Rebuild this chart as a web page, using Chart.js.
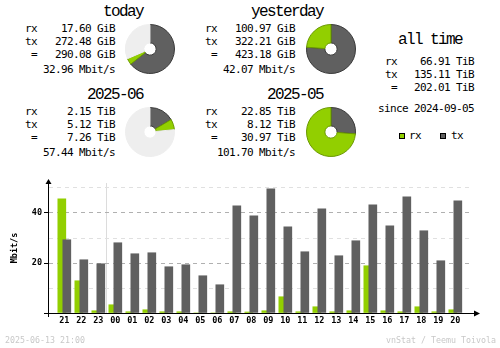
<!DOCTYPE html>
<html><head><meta charset="utf-8">
<script src="https://cdn.jsdelivr.net/npm/chart.js@4/dist/chart.umd.min.js"></script>
<style>
html,body{margin:0;padding:0;background:#fff;}
#wrap{position:relative;width:500px;height:348px;overflow:hidden;font-family:'DejaVu Sans Mono',monospace;color:#000;}
.t{position:absolute;white-space:pre;font-size:11px;line-height:11px;letter-spacing:-0.62px;}
.h{position:absolute;white-space:pre;font-family:'Liberation Mono',monospace;font-size:16px;line-height:16px;letter-spacing:-1.6px;}
.s{position:absolute;white-space:pre;font-size:8.3px;line-height:8.3px;color:#c8c8c8;}
.sq{position:absolute;width:6px;height:6px;box-sizing:border-box;border:1px solid #000;}
canvas{position:absolute;}
</style></head>
<body><div id="wrap">
<canvas id="bars" width="500" height="178" style="left:0;top:170px;width:500px;height:178px"></canvas>
</div>
<script>
// ---- summary data ----
const periods   = ['today', 'yesterday', '2025-06', '2025-05'];
const rxText    = ['17.60 GiB', '100.97 GiB', '2.15 TiB', '22.85 TiB'];
const txText    = ['272.48 GiB', '322.21 GiB', '5.12 TiB', '8.12 TiB'];
const totText   = ['290.08 GiB', '423.18 GiB', '7.26 TiB', '30.97 TiB'];
const rateText  = ['32.96 Mbit/s', '42.07 Mbit/s', '57.44 Mbit/s', '101.70 Mbit/s'];
const rxAmount  = [17.60, 100.97, 2.15, 22.85];
const txAmount  = [272.48, 322.21, 5.12, 8.12];
const allTimeRx = '66.91 TiB';
const allTimeTx = '135.11 TiB';
const allTimeTot = '202.01 TiB';
const sinceText = 'since 2024-09-05';
const stampText = '2025-06-13 21:00';
const creditText = 'vnStat / Teemu Toivola';

// ---- hourly data (Mbit/s) ----
const hours  = ['21','22','23','00','01','02','03','04','05','06','07','08','09','10','11','12','13','14','15','16','17','18','19','20'];
const rxMbit = [45.7, 12.9, 0.9, 3.3, 0.5, 1.3, 0.5, 0.5, 0, 0, 0.5, 0.4, 0.9, 6.5, 0.5, 2.5, 0.5, 0.9, 18.9, 0.9, 0.5, 2.5, 0.5, 1.3];
const txMbit = [29.3, 21.3, 19.7, 28.1, 23.7, 24.1, 18.5, 19.3, 14.9, 11.3, 42.9, 38.9, 49.7, 34.5, 24.5, 41.7, 22.9, 28.9, 43.3, 34.9, 46.5, 32.9, 20.9, 44.9];
const yGrid     = [0, 10, 20, 30, 40, 50];
const yLabelled = [20, 40];
const yMax = 52;

const RX = '#92cf00', TX = '#606060', REST = '#eeeeee';
const wrap = document.getElementById('wrap');

function txt(cls, s, x, baseline, align) {
  const off = {t: 9.3, h: 12.25, s: 7.0}[cls];
  const d = document.createElement('div');
  d.className = cls;
  d.textContent = s;
  d.style.top = (baseline - off) + 'px';
  if (align === 'right') { d.style.right = (500 - x) + 'px'; d.style.textAlign = 'right'; }
  else d.style.left = x + 'px';
  wrap.appendChild(d);
}

// summary blocks
const colDx = [0, 180, 0, 180];
const rowDy = [0, 0, 83, 83];
const pieCx = [150, 331, 150, 331];
const pieCy = [49.3, 49.3, 132.3, 132.3];
const pairMax = [0,1,2,3].map(i => {
  const a = i < 2 ? 0 : 2;
  return Math.max(rxAmount[a] + txAmount[a], rxAmount[a+1] + txAmount[a+1]);
});
periods.forEach((p, i) => {
  const dx = colDx[i], dy = rowDy[i];
  txt('h', p, 143 + dx, 16 + dy, 'right');
  txt('t', 'rx', 25 + dx, 32.7 + dy, 'left');
  txt('t', rxText[i], 115 + dx, 32.7 + dy, 'right');
  txt('t', 'tx', 25 + dx, 45.3 + dy, 'left');
  txt('t', txText[i], 115 + dx, 45.3 + dy, 'right');
  txt('t', ' =', 25 + dx, 58.7 + dy, 'left');
  txt('t', totText[i], 115 + dx, 58.7 + dy, 'right');
  txt('t', rateText[i], 115 + dx, 73.2 + dy, 'right');

  const c = document.createElement('canvas');
  c.width = 50; c.height = 50;
  c.style.left = (pieCx[i] - 25) + 'px';
  c.style.top = (pieCy[i] - 25) + 'px';
  c.style.width = '50px'; c.style.height = '50px';
  wrap.appendChild(c);
  const rest = Math.max(pairMax[i] - rxAmount[i] - txAmount[i], 0);
  new Chart(c, {
    type: 'doughnut',
    data: { labels: ['tx', 'rx', ''], datasets: [{
      data: [txAmount[i], rxAmount[i], rest],
      backgroundColor: [TX, RX, REST],
      borderColor: ['#3a3a3a', '#6a9800', REST],
      borderWidth: 1
    }]},
    options: { responsive: false, animation: false, events: [], cutout: '25%',
      plugins: { legend: { display: false }, tooltip: { enabled: false } } }
  });
});

// all time
txt('h', 'all time', 462, 44.3, 'right');
txt('t', 'rx', 385, 65.7, 'left');  txt('t', allTimeRx, 474, 65.7, 'right');
txt('t', 'tx', 385, 78.3, 'left');  txt('t', allTimeTx, 474, 78.3, 'right');
txt('t', ' =', 385, 91.7, 'left');  txt('t', allTimeTot, 474, 91.7, 'right');
txt('t', sinceText, 474, 112.3, 'right');
// legend
[[398.5, RX, 'rx', 409], [440, TX, 'tx', 451]].forEach(([x, col, lab, tx]) => {
  const q = document.createElement('div');
  q.className = 'sq'; q.style.left = x + 'px'; q.style.top = '133px'; q.style.background = col;
  wrap.appendChild(q);
  txt('t', lab, tx, 139.3, 'left');
});
// footer
txt('s', stampText, 5, 342.7, 'left');
txt('s', creditText, 496, 342.7, 'right');

// ---- hourly bar chart ----
const boundary = hours.indexOf('00') - 0.5;
const xMin = -0.96, span = 25, barShift = 0.147;
const arrows = {
  id: 'arrows',
  afterDraw(chart) {
    const {ctx, chartArea: a} = chart;
    const L = Math.round(a.left) + 0.5, B = Math.round(a.bottom) + 0.5, R = Math.round(a.right), T = Math.round(a.top);
    ctx.save();
    ctx.strokeStyle = '#000'; ctx.fillStyle = '#000'; ctx.lineWidth = 1;
    ctx.beginPath();
    ctx.moveTo(L, a.bottom); ctx.lineTo(L, a.bottom + 4);
    ctx.moveTo(R, B); ctx.lineTo(R + 3, B);
    ctx.moveTo(L, T + 1); ctx.lineTo(L, T - 1);
    ctx.stroke();
    ctx.beginPath();
    ctx.moveTo(R + 1, B - 3); ctx.lineTo(R + 7, B); ctx.lineTo(R + 1, B + 3); ctx.closePath(); ctx.fill();
    ctx.beginPath();
    ctx.moveTo(L - 3, T + 1); ctx.lineTo(L, T - 4); ctx.lineTo(L + 3, T + 1); ctx.closePath(); ctx.fill();
    ctx.restore();
  }
};
Chart.defaults.font.family = "'DejaVu Sans Mono', monospace";
new Chart(document.getElementById('bars'), {
  type: 'bar',
  data: { datasets: [
    { label: 'rx', data: rxMbit.map((v, i) => ({x: i, y: v})), xAxisID: 'xr', backgroundColor: RX, order: 2, barThickness: 8, grouped: false },
    { label: 'tx', data: txMbit.map((v, i) => ({x: i, y: v})), xAxisID: 'xt', backgroundColor: TX, order: 1, barThickness: 8, grouped: false }
  ]},
  options: {
    responsive: false, animation: false, events: [],
    layout: { padding: { top: 13, right: 27, bottom: 0, left: 0 } },
    plugins: { legend: { display: false }, tooltip: { enabled: false } },
    scales: {
      xl: { type: 'linear', position: 'bottom', min: xMin, max: xMin + span, offset: false,
        afterBuildTicks: s => { s.ticks = hours.map((h, i) => ({value: i})).concat([{value: boundary}]); },
        ticks: { autoSkip: false, maxRotation: 0, padding: 3, color: '#000', font: { size: 8.5, weight: 'bold' },
          callback: v => Number.isInteger(v) ? hours[v] : '' },
        grid: { offset: false, drawTicks: false, color: c => (c.tick && c.tick.value === boundary) ? '#dcdcdc' : 'rgba(0,0,0,0)' },
        border: { color: '#000', width: 1 },
        afterFit: s => { s.height = 35; } },
      xr: { type: 'linear', display: false, offset: false, grid: { offset: false }, min: xMin + barShift, max: xMin + barShift + span },
      xt: { type: 'linear', display: false, offset: false, grid: { offset: false }, min: xMin - barShift, max: xMin - barShift + span },
      y: { type: 'linear', min: 0, max: yMax,
        afterBuildTicks: s => { s.ticks = yGrid.map(v => ({value: v})); },
        ticks: { padding: 2, color: '#000', font: { size: 8.5, weight: 'bold' },
          callback: v => yLabelled.includes(v) ? String(v) : '' },
        grid: { tickLength: 4,
          color: c => { const v = c.tick ? c.tick.value : -1; return v === 0 ? 'rgba(0,0,0,0)' : (yLabelled.includes(v) ? '#b0b0b0' : '#e0e0e0'); },
          tickColor: c => { const v = c.tick ? c.tick.value : -1; return (v === 0 || yLabelled.includes(v)) ? '#000' : 'rgba(0,0,0,0)'; } },
        border: { color: '#000', width: 1, dash: [4, 4] },
        title: { display: true, text: 'Mbit/s', color: '#000', font: { size: 8.5, weight: 'bold' }, padding: { top: 10, bottom: 0 } },
        afterFit: s => { s.width = 48; } }
    }
  },
  plugins: [arrows]
});
</script>
</body></html>
